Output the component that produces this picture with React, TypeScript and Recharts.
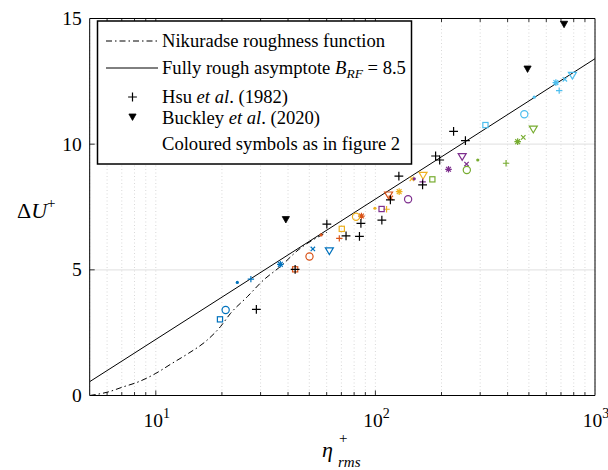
import { ComposedChart, Line, Scatter, XAxis, YAxis, CartesianGrid } from "recharts";

// symbol order used by every coloured group
const symbols = ["square", "circle", "dot", "plus", "cross", "asterisk", "triangle"];

const blueX = [19.6, 20.8, 23.5, 27.1, 51.9, 36.9, 61.7];
const blueY = [3.03, 3.4, 4.5, 4.63, 5.83, 5.22, 5.75];
const orangeX = [43.1, 50.1, 56.6, 68.5, 117.5, 86.4, 114.8];
const orangeY = [5.02, 5.53, 6.39, 6.25, 7.86, 7.14, 7.97];
const yellowX = [70.3, 81.6, 99.5, 112.4, 146.5, 128.3, 164.8];
const yellowY = [6.63, 7.11, 7.45, 7.41, 8.62, 8.11, 8.75];
const purpleX = [106.7, 140.9, 150.3, 164.1, 260, 215.2, 248.4];
const purpleY = [7.42, 7.81, 8.62, 8.5, 9.21, 9.0, 9.5];
const greenX = [181.7, 260.8, 292.5, 393.6, 471.4, 444.4, 523.6];
const greenY = [8.6, 8.97, 9.37, 9.24, 10.27, 10.1, 10.59];
const lightBlueX = [317, 476.5, 528.7, 687, 729, 663.5, 789];
const lightBlueY = [10.76, 11.19, 11.87, 12.13, 12.58, 12.45, 12.73];

const hsuX = [28.7, 43.1, 60.1, 73.5, 84.6, 85.9, 107, 117, 127.9, 164, 188, 196.2, 227, 257];
const hsuY = [3.43, 5.02, 6.82, 6.35, 6.33, 6.85, 6.98, 7.78, 8.73, 8.38, 9.53, 9.37, 10.51, 10.14];
const buckleyX = [39.1, 493, 723];
const buckleyY = [7.0, 12.99, 14.77];

const nikX = [5, 6.12, 7.03, 8.37, 10, 11.86, 14.1, 16.8, 19.7, 21.9, 26.1, 31, 36.9, 44.5, 60];
const nikY = [0, 0.15, 0.33, 0.55, 0.88, 1.28, 1.68, 2.14, 2.74, 3.27, 3.93, 4.6, 5.13, 5.79, 6.49];
const asymX = [5, 1000];
const asymY = [0.55, 13.4];

const xTicks = [6, 7, 8, 9, 10, 20, 30, 40, 50, 60, 70, 80, 90, 100, 200, 300, 400, 500, 600, 700, 800, 900, 1000];
const yTicks = [0, 5, 10, 15];

const groups = [
  { name: "blue", color: "#0072BD", xs: blueX, ys: blueY },
  { name: "orange", color: "#D95319", xs: orangeX, ys: orangeY },
  { name: "yellow", color: "#EDB120", xs: yellowX, ys: yellowY },
  { name: "purple", color: "#7E2F8E", xs: purpleX, ys: purpleY },
  { name: "green", color: "#77AC30", xs: greenX, ys: greenY },
  { name: "lightblue", color: "#4DBEEE", xs: lightBlueX, ys: lightBlueY },
];

const zip = (xs: number[], ys: number[], kinds?: string[]) =>
  xs.map((x, i) => ({ x, y: ys[i], kind: kinds ? kinds[i] : "" }));

const SERIF = "'Liberation Serif', 'Times New Roman', serif";

const Marker = ({ cx, cy, kind, color, big }: any) => {
  const sw = 1.2;
  if (kind === "square")
    return <rect x={cx - 2.6} y={cy - 2.6} width={5.2} height={5.2} fill="none" stroke={color} strokeWidth={sw} />;
  if (kind === "circle") return <circle cx={cx} cy={cy} r={3.6} fill="none" stroke={color} strokeWidth={sw} />;
  if (kind === "dot") return <circle cx={cx} cy={cy} r={1.6} fill={color} />;
  if (kind === "plus") {
    const h = big ? 4.4 : 3.2;
    return <path d={`M${cx - h} ${cy}H${cx + h}M${cx} ${cy - h}V${cy + h}`} stroke={color} strokeWidth={sw} fill="none" />;
  }
  if (kind === "cross") {
    const h = 2.2;
    return <path d={`M${cx - h} ${cy - h}L${cx + h} ${cy + h}M${cx - h} ${cy + h}L${cx + h} ${cy - h}`} stroke={color} strokeWidth={sw} fill="none" />;
  }
  if (kind === "asterisk") {
    const h = 3.3;
    const d = 2.4;
    return (
      <path
        d={`M${cx - h} ${cy}H${cx + h}M${cx} ${cy - h}V${cy + h}M${cx - d} ${cy - d}L${cx + d} ${cy + d}M${cx - d} ${cy + d}L${cx + d} ${cy - d}`}
        stroke={color}
        strokeWidth={sw}
        fill="none"
      />
    );
  }
  if (kind === "triangle")
    return <path d={`M${cx - 4} ${cy - 3.2}L${cx + 4} ${cy - 3.2}L${cx} ${cy + 3.6}Z`} stroke={color} strokeWidth={sw} fill="none" />;
  if (kind === "filled")
    return <path d={`M${cx - 3.6} ${cy - 3}L${cx + 3.6} ${cy - 3}L${cx} ${cy + 3.4}Z`} stroke={color} strokeWidth={0.8} fill={color} />;
  return null;
};

const majors = [10, 100, 1000];

const BottomTick = ({ x, y, payload }: any) => {
  const v = payload.value;
  const major = majors.includes(v);
  return (
    <g>
      {v < 1000 && <line x1={x} x2={x} y1={y} y2={y - (major ? 5 : 3.5)} stroke="#000" strokeWidth={0.8} />}
      {major && (
        <text x={x + 1} y={y + 31} textAnchor="middle" fontFamily={SERIF} fontSize={19.5} fill="#000">
          10
          <tspan dy={-8.5} fontSize={14}>
            {Math.round(Math.log10(v))}
          </tspan>
        </text>
      )}
    </g>
  );
};

const TopTick = ({ x, y, payload }: any) => {
  const v = payload.value;
  if (v >= 1000) return <g />;
  return <line x1={x} x2={x} y1={y} y2={y + (majors.includes(v) ? 5 : 3.5)} stroke="#000" strokeWidth={0.8} />;
};

const LeftTick = ({ x, y, payload }: any) => (
  <g>
    {payload.value > 0 && payload.value < 15 && <line x1={x} x2={x + 5} y1={y} y2={y} stroke="#000" strokeWidth={0.8} />}
    <text x={x - 8} y={y + 6.5} textAnchor="end" fontFamily={SERIF} fontSize={19.5} fill="#000">
      {payload.value}
    </text>
  </g>
);

const RightTick = ({ x, y, payload }: any) =>
  payload.value > 0 && payload.value < 15 ? <line x1={x} x2={x - 5} y1={y} y2={y} stroke="#000" strokeWidth={0.8} /> : <g />;

export default function App() {
  return (
    <div style={{ position: "absolute", left: 0, top: 0, width: 608, height: 470, background: "#fff" }}>
      <ComposedChart width={608} height={470} margin={{ top: 17.5, right: 12, bottom: 73.5, left: 88.7 }}>
        <CartesianGrid vertical={false} stroke="#e6e6e6" strokeWidth={1.2} />
        <CartesianGrid horizontal={false} stroke="#d8d8d8" strokeDasharray="1 2.5" />
        <XAxis
          dataKey="x"
          type="number"
          scale="log"
          domain={[5, 1000]}
          allowDataOverflow
          ticks={xTicks}
          interval={0}
          height={1}
          tickSize={0}
          tickMargin={0}
          tickLine={false}
          axisLine={{ stroke: "#000", strokeWidth: 1 }}
          tick={(p: any) => <BottomTick {...p} />}
        />
        <XAxis
          xAxisId="top"
          orientation="top"
          dataKey="x"
          type="number"
          scale="log"
          domain={[5, 1000]}
          allowDataOverflow
          ticks={xTicks}
          interval={0}
          height={1}
          tickSize={0}
          tickMargin={0}
          tickLine={false}
          axisLine={{ stroke: "#000", strokeWidth: 1 }}
          tick={(p: any) => <TopTick {...p} />}
        />
        <YAxis
          type="number"
          domain={[0, 15]}
          ticks={yTicks}
          interval={0}
          width={1}
          tickSize={0}
          tickMargin={0}
          tickLine={false}
          axisLine={{ stroke: "#000", strokeWidth: 1 }}
          tick={(p: any) => <LeftTick {...p} />}
        />
        <YAxis
          yAxisId="right"
          orientation="right"
          type="number"
          domain={[0, 15]}
          ticks={yTicks}
          interval={0}
          width={1}
          tickSize={0}
          tickMargin={0}
          tickLine={false}
          axisLine={{ stroke: "#000", strokeWidth: 1 }}
          tick={(p: any) => <RightTick {...p} />}
        />
        <Line
          data={zip(nikX, nikY)}
          dataKey="y"
          type="monotone"
          stroke="#000"
          strokeWidth={1}
          strokeDasharray="6 3 1.5 3"
          dot={false}
          isAnimationActive={false}
        />
        <Line data={zip(asymX, asymY)} dataKey="y" type="linear" stroke="#000" strokeWidth={1} dot={false} isAnimationActive={false} />
        {groups.map((g) => (
          <Scatter
            key={g.name}
            data={zip(g.xs, g.ys, symbols)}
            dataKey="y"
            isAnimationActive={false}
            shape={(p: any) => <Marker cx={p.cx} cy={p.cy} kind={p.payload.kind} color={g.color} />}
          />
        ))}
        <Scatter
          data={zip(hsuX, hsuY)}
          dataKey="y"
          isAnimationActive={false}
          shape={(p: any) => <Marker cx={p.cx} cy={p.cy} kind="plus" color="#000" big />}
        />
        <Scatter
          data={zip(buckleyX, buckleyY)}
          dataKey="y"
          isAnimationActive={false}
          shape={(p: any) => <Marker cx={p.cx} cy={p.cy} kind="filled" color="#000" />}
        />
      </ComposedChart>
      <svg width={608} height={470} style={{ position: "absolute", left: 0, top: 0, pointerEvents: "none" }} fontFamily={SERIF}>
        <rect x={97.5} y={21} width={314} height={143} fill="#fff" stroke="#000" strokeWidth={1.5} />
        <line x1={106} x2={158} y1={41} y2={41} stroke="#000" strokeWidth={1} strokeDasharray="6 3 1.5 3" />
        <text x={162} y={47} fontSize={18.6}>
          Nikuradse roughness function
        </text>
        <line x1={106} x2={158} y1={68} y2={68} stroke="#000" strokeWidth={1} />
        <text x={162} y={74} fontSize={18.6}>
          Fully rough asymptote <tspan fontStyle="italic">B</tspan>
          <tspan fontStyle="italic" fontSize={13.5} dy={4}>
            RF
          </tspan>
          <tspan dy={-4}> = 8.5</tspan>
        </text>
        <Marker cx={132.5} cy={97} kind="plus" color="#000" big />
        <text x={162} y={103} fontSize={18.6}>
          Hsu <tspan fontStyle="italic">et al</tspan>. (1982)
        </text>
        <Marker cx={132.5} cy={117} kind="filled" color="#000" />
        <text x={162} y={124} fontSize={18.6}>
          Buckley <tspan fontStyle="italic">et al</tspan>. (2020)
        </text>
        <text x={162} y={150} fontSize={18.6}>
          Coloured symbols as in figure 2
        </text>
        <text x={17} y={218} fontSize={22}>
          Δ<tspan fontStyle="italic">U</tspan>
          <tspan fontSize={15} dy={-10}>
            +
          </tspan>
        </text>
        <text x={322} y={457} fontSize={22} fontStyle="italic">
          η
        </text>
        <text x={339} y={443} fontSize={15}>
          +
        </text>
        <text x={338} y={467} fontSize={15} fontStyle="italic">
          rms
        </text>
      </svg>
    </div>
  );
}
